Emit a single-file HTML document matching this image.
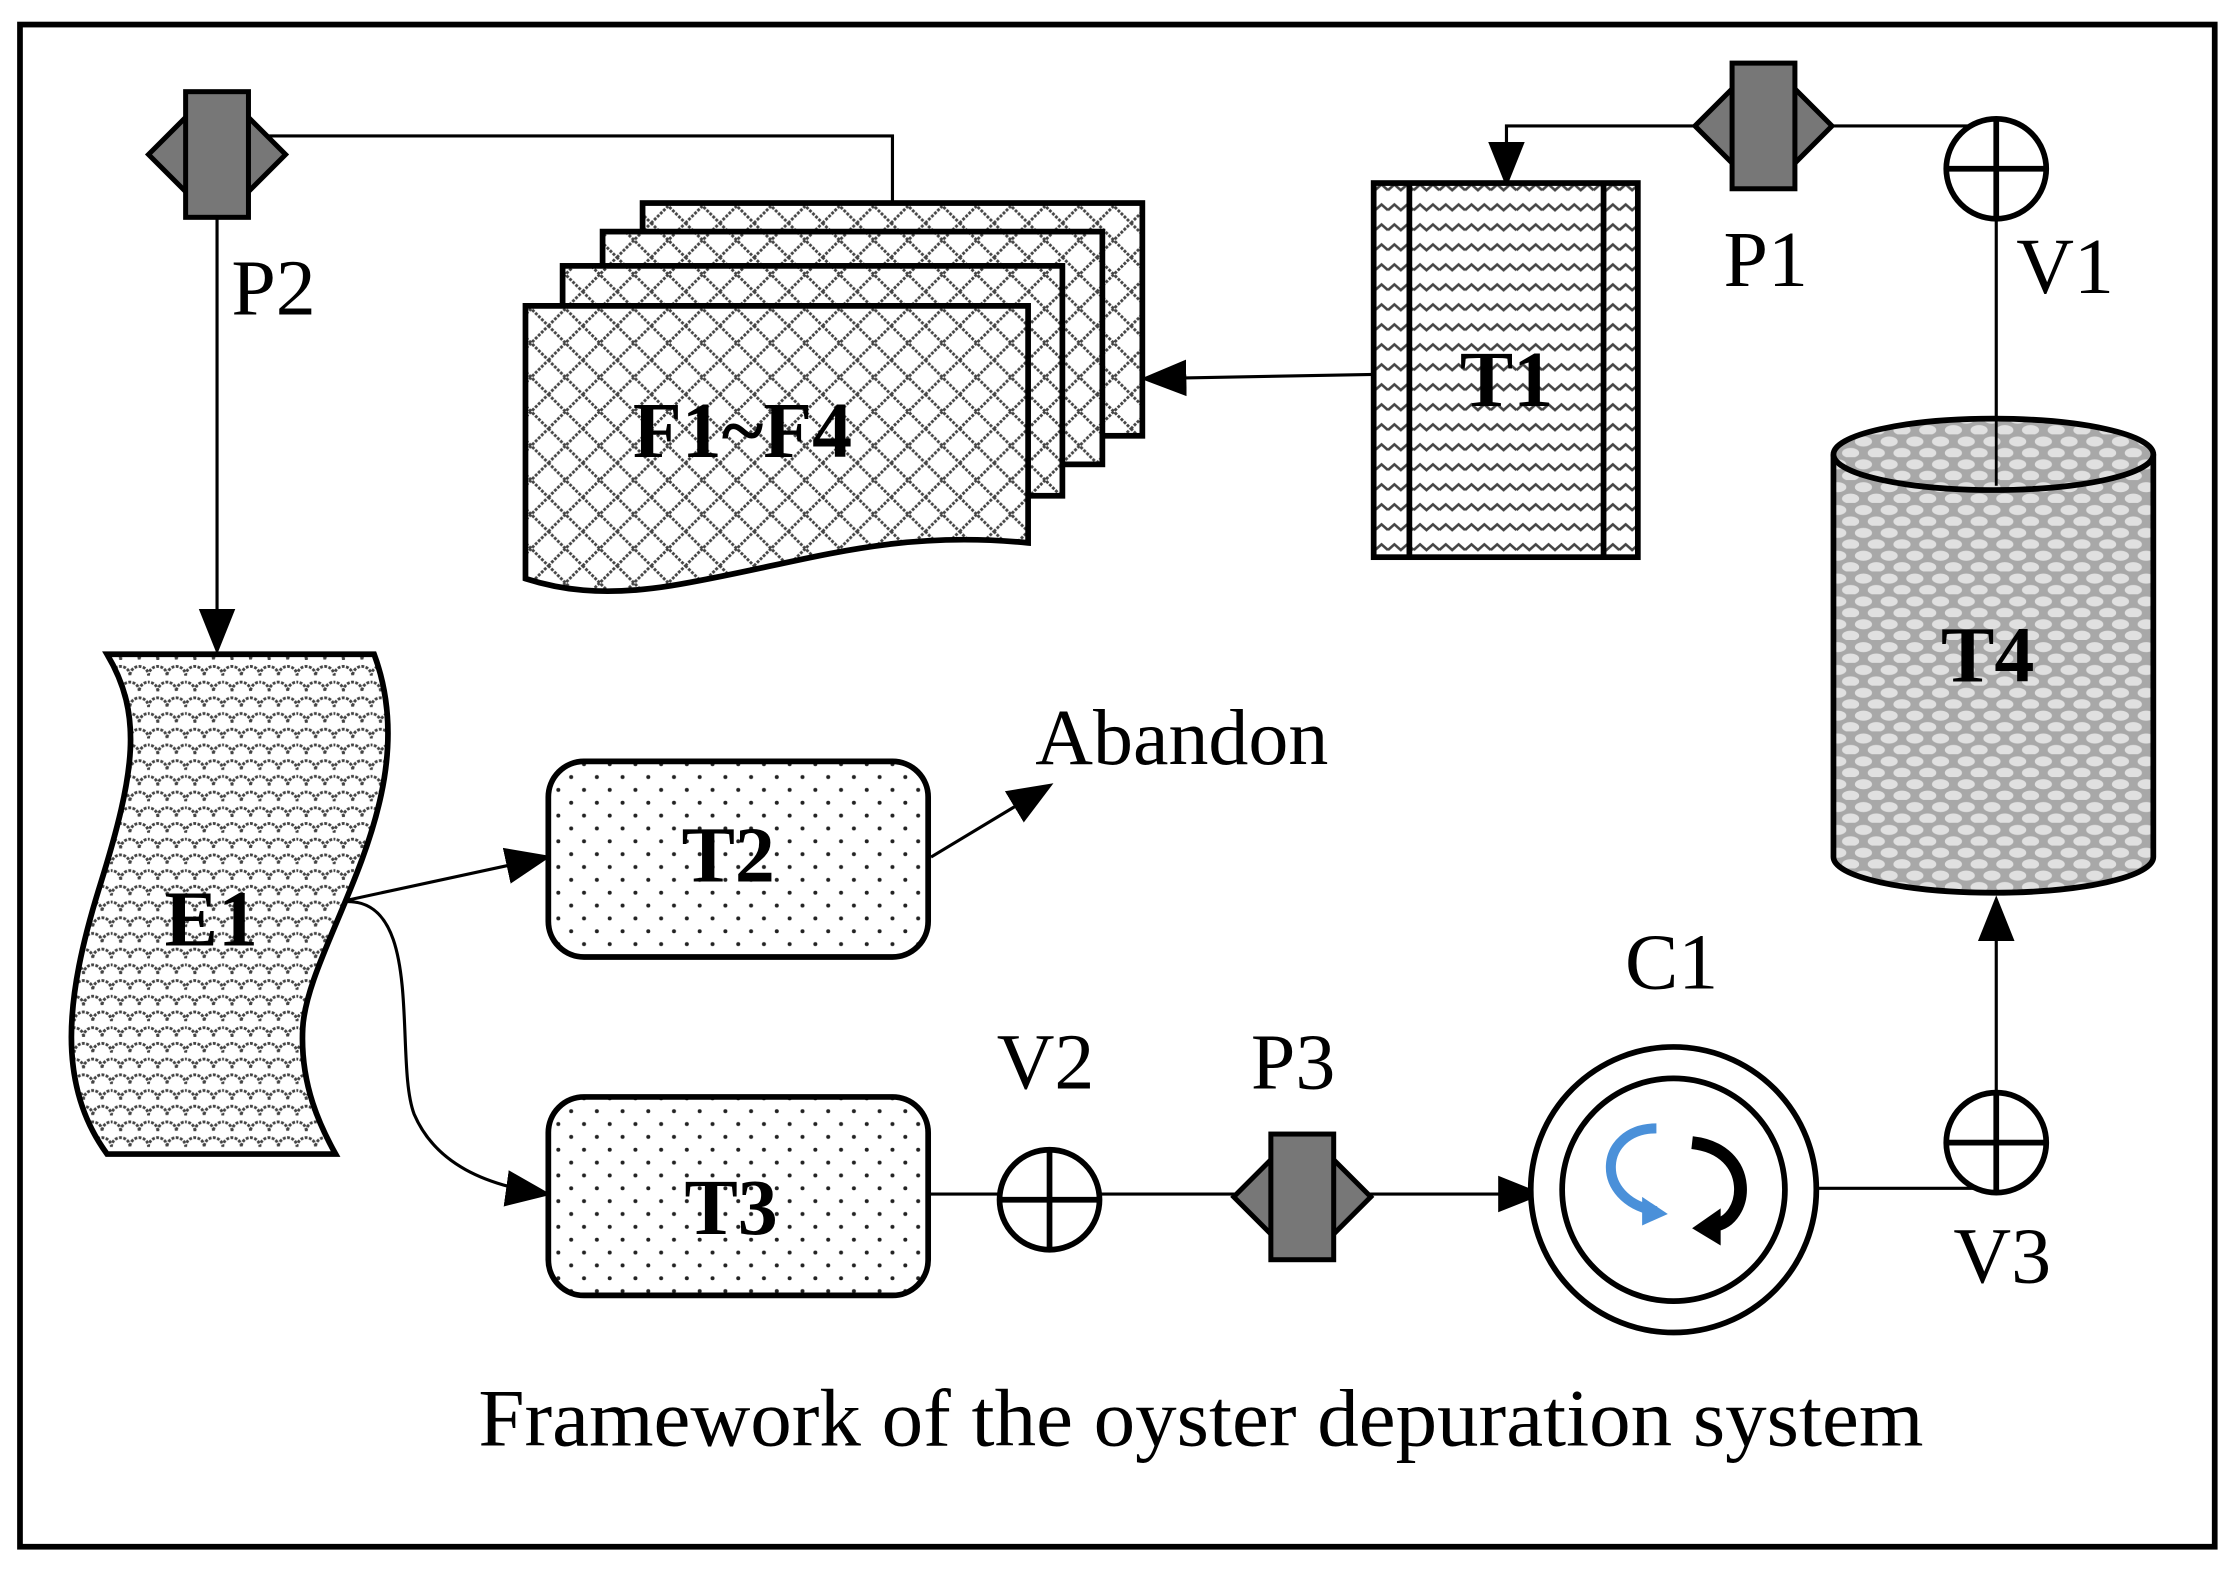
<!DOCTYPE html>
<html><head><style>html,body{margin:0;padding:0;background:#fff}svg{display:block}</style></head><body>
<svg width="2239" height="1577" viewBox="0 0 1568 1104" xmlns="http://www.w3.org/2000/svg" font-family="Liberation Serif, serif">
<defs>
<marker id="ab" viewBox="0 0 10 10" refX="9" refY="5" markerWidth="32" markerHeight="32" markerUnits="userSpaceOnUse" orient="auto"><path d="M0,1L10,5L0,9z" fill="#000"/></marker>
<pattern id="diam" width="24" height="24" patternUnits="userSpaceOnUse"><rect width="24" height="24" fill="#fff"/><path d="M0,12L12,0L24,12L12,24z" fill="none" stroke="#444" stroke-width="2" stroke-dasharray="2,1"/></pattern>
<pattern id="wave" width="18" height="14" patternUnits="userSpaceOnUse"><rect width="18" height="14" fill="#fff"/><path d="M0,7L4.5,3L9,7L13.5,3L18,7" fill="none" stroke="#444" stroke-width="1.8"/></pattern>
<pattern id="scale" width="26" height="22" patternUnits="userSpaceOnUse"><rect width="26" height="22" fill="#fff"/><path d="M0,11A6.5,6.5 0 0 1 13,11A6.5,6.5 0 0 1 26,11M-6.5,22A6.5,6.5 0 0 1 6.5,22M6.5,22A6.5,6.5 0 0 1 19.5,22A6.5,6.5 0 0 1 32.5,22" fill="none" stroke="#444" stroke-width="2" stroke-dasharray="2,1"/></pattern>
<pattern id="dots" width="18" height="18" patternUnits="userSpaceOnUse"><rect width="18" height="18" fill="#fff"/><circle cx="4" cy="4" r="1.4" fill="#222"/><circle cx="13" cy="13" r="1.4" fill="#222"/></pattern>
<pattern id="cyl" width="18" height="16" patternUnits="userSpaceOnUse"><rect width="18" height="16" fill="#a8a8a8"/><ellipse cx="9" cy="5" rx="6" ry="3.5" fill="#e0e0e0"/><ellipse cx="0" cy="13" rx="6" ry="3.5" fill="#e0e0e0"/><ellipse cx="18" cy="13" rx="6" ry="3.5" fill="#e0e0e0"/></pattern>
<g id="pumpH"><path d="M-48,0L-22,-26L22,-26L48,0L22,26L-22,26z" fill="#777" stroke="#000" stroke-width="3.5"/><rect x="-22" y="-44" width="44" height="88" fill="#777" stroke="#000" stroke-width="3.5"/></g>
</defs>
<rect x="14" y="17" width="1537" height="1066" fill="#fff" stroke="#000" stroke-width="4"/>
<g stroke="#000" stroke-width="2.2" fill="none">
<path d="M152,95H625V142"/>
<path d="M152,95V455" marker-end="url(#ab)"/>
<path d="M1395,88H1055V128" marker-end="url(#ab)"/>
<path d="M1398,118V318"/>
<path d="M962,262L802,265" marker-end="url(#ab)"/>
<path d="M1398,800V630" marker-end="url(#ab)"/>
<path d="M1270,832H1398"/>
<path d="M650,836H1078" marker-end="url(#ab)"/>
<path d="M235,632L383,600" marker-end="url(#ab)"/>
<path d="M235,632C300,620 275,740 290,780C305,815 340,830 383,836" marker-end="url(#ab)"/>
<path d="M652,600L735,550" marker-end="url(#ab)"/>
</g>
<g stroke="#000" stroke-width="4" fill="url(#diam)">
<rect x="450" y="142" width="350" height="163"/>
<rect x="422" y="162" width="350" height="163"/>
<rect x="394" y="186" width="350" height="161"/>
<path d="M368,214H720V380C620,370 560,395 470,410C420,418 390,412 368,405z"/>
</g>
<text x="520" y="320" font-size="56" font-weight="bold" text-anchor="middle">F1~F4</text>
<rect x="962" y="128" width="185" height="262" fill="url(#wave)" stroke="#000" stroke-width="4"/>
<path d="M987,128V390M1123,128V390" stroke="#000" stroke-width="4"/>
<text x="1055" y="284" font-size="56" font-weight="bold" text-anchor="middle">T1</text>
<use href="#pumpH" x="152" y="108"/>
<use href="#pumpH" x="1235" y="88"/>
<use href="#pumpH" x="912" y="838"/>
<g stroke="#000" stroke-width="4" fill="#fff">
<circle cx="1398" cy="118" r="35"/><path d="M1363,118H1433M1398,83V153"/>
<circle cx="1398" cy="800" r="35"/><path d="M1363,800H1433M1398,765V835"/>
<circle cx="735" cy="840" r="35"/><path d="M700,840H770M735,805V875"/>
</g>
<path d="M1284,318V600A112,25 0 0 0 1508,600V318" fill="url(#cyl)" stroke="#000" stroke-width="4"/>
<ellipse cx="1396" cy="318" rx="112" ry="25" fill="url(#cyl)" stroke="#000" stroke-width="4"/>
<path d="M1398,293V340" stroke="#000" stroke-width="2"/>
<text x="1392" y="477" font-size="56" font-weight="bold" text-anchor="middle">T4</text>
<circle cx="1172" cy="833" r="100" fill="#fff" stroke="#000" stroke-width="4"/>
<circle cx="1172" cy="833" r="78" fill="#fff" stroke="#000" stroke-width="4"/>
<path d="M1160,790C1120,790 1115,840 1160,848" fill="none" stroke="#4a90d9" stroke-width="7"/>
<path d="M1150,838L1168,850L1150,858z" fill="#4a90d9"/>
<path d="M1185,800C1230,805 1225,855 1200,858" fill="none" stroke="#000" stroke-width="9"/>
<path d="M1205,846L1185,860L1205,872z" fill="#000"/>
<path d="M75,458H262C300,560 215,660 212,720C210,760 225,790 235,808H75C40,760 45,700 70,620C95,540 100,500 75,458z" fill="url(#scale)" stroke="#000" stroke-width="4"/>
<text x="148" y="662" font-size="56" font-weight="bold" text-anchor="middle">E1</text>
<rect x="384" y="533" width="266" height="137" rx="25" fill="url(#dots)" stroke="#000" stroke-width="4"/>
<text x="510" y="617" font-size="56" font-weight="bold" text-anchor="middle">T2</text>
<rect x="384" y="768" width="266" height="139" rx="25" fill="url(#dots)" stroke="#000" stroke-width="4"/>
<text x="512" y="864" font-size="56" font-weight="bold" text-anchor="middle">T3</text>
<g font-size="56">
<text x="162" y="220">P2</text>
<text x="1207" y="200">P1</text>
<text x="1412" y="205">V1</text>
<text x="725" y="535">Abandon</text>
<text x="1138" y="692">C1</text>
<text x="698" y="762">V2</text>
<text x="876" y="762">P3</text>
<text x="1368" y="898">V3</text>
</g>
<text x="335" y="1012" font-size="57" textLength="1012" lengthAdjust="spacingAndGlyphs">Framework of the oyster depuration system</text>
</svg>
</body></html>
